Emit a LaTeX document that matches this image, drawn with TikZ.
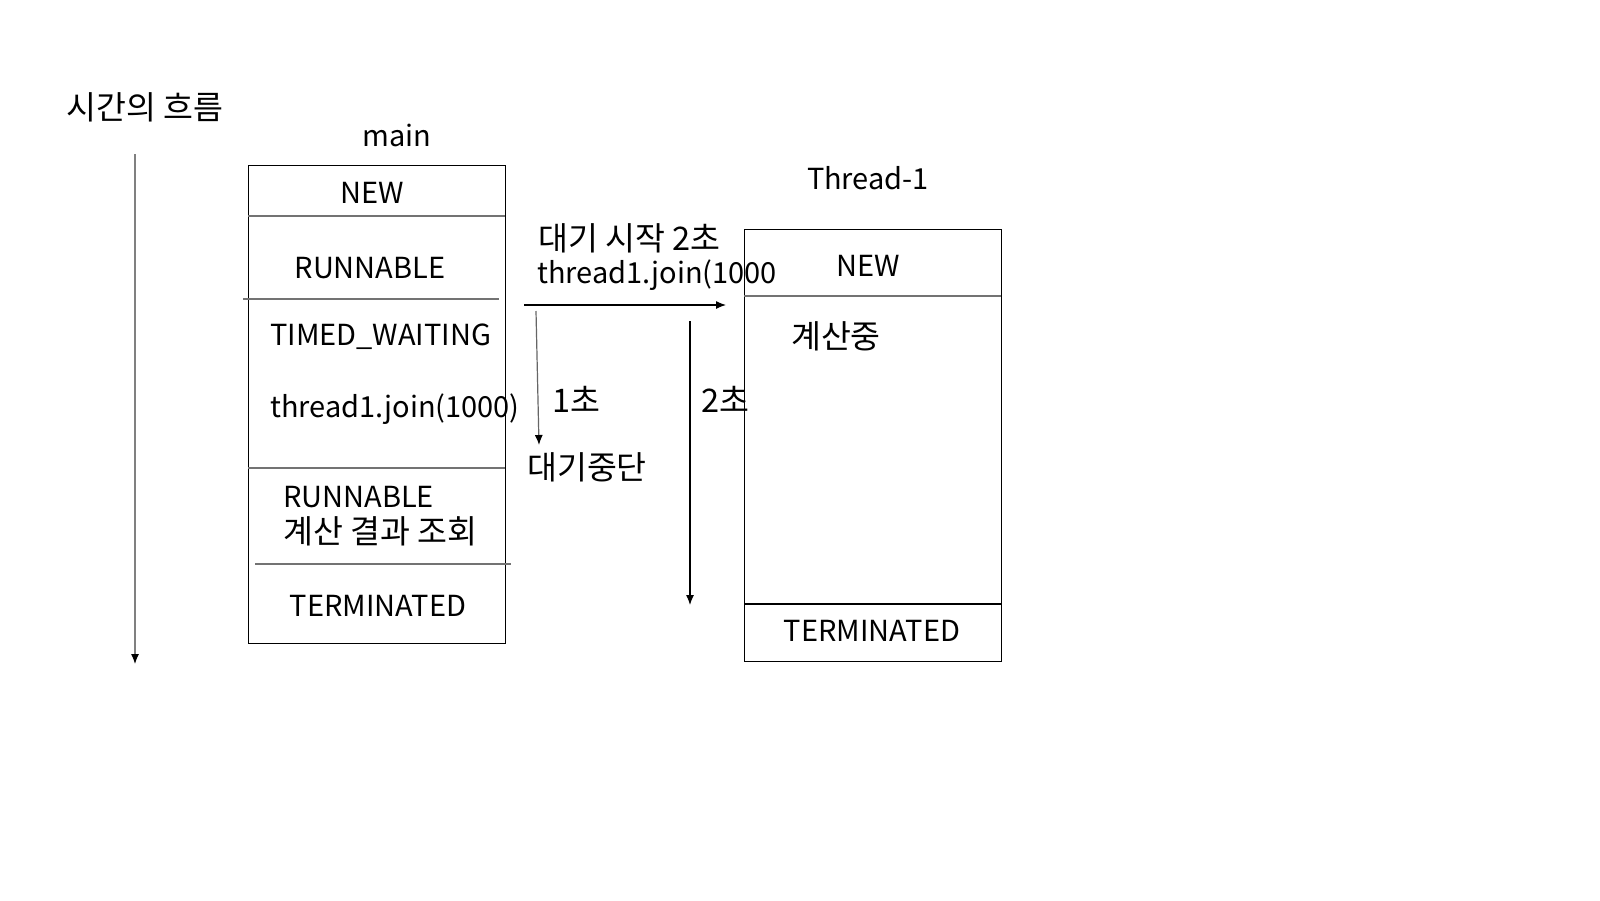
\documentclass[tikz,border=0pt]{standalone}
\usepackage{fontspec}
\setmainfont{Noto Sans CJK KR}
\usetikzlibrary{arrows.meta}
\newcommand{\kf}{\fontsize{32.5}{38}\selectfont}
\begin{document}
\begin{tikzpicture}[x=1pt,y=-1pt,
  every node/.style={inner sep=0pt, font=\fontsize{29}{34}\selectfont},
  kr/.style={font=\kf},
  box/.style={draw=black, line width=1.4pt, inner sep=0pt},
  div/.style={draw=black!55, line width=1.4pt},
  arr/.style={-{Latex[length=10pt,width=8pt,color=black]}, line width=1.2pt}]
\useasboundingbox[fill=white] (0,0) rectangle (1600,900);

% main box
\node[box, minimum width=257, minimum height=478, anchor=north west] (mainbox) at (248,165) {};
\coordinate (m1a) at (248,216); \coordinate (m1b) at (505,216);
\coordinate (m2a) at (243,299); \coordinate (m2b) at (499,299);
\coordinate (m3a) at (248,468); \coordinate (m3b) at (505,468);
\coordinate (m4a) at (255,564); \coordinate (m4b) at (511,564);
\draw[div] (m1a) -- (m1b);
\draw[div] (m2a) -- (m2b);
\draw[div] (m3a) -- (m3b);
\draw[div] (m4a) -- (m4b);

\node (mainlbl) at (397,135) {main};
\node (mnew) at (372,193) {NEW};
\node (mrun) at (370,268) {RUNNABLE};
\node[anchor=west] (mtw) at (270,337) {TIMED\_WAITING};
\node[anchor=west] (mjoin) at (270,409) {thread1.join(1000)};
\node[anchor=west] (mrun2) at (283,497) {RUNNABLE};
\node[anchor=west, kr] (mres) at (283,531) {계산 결과 조회};
\node (mterm) at (378,606) {TERMINATED};

% thread-1 box
\node[box, minimum width=257, minimum height=432, anchor=north west] (tbox) at (744,229) {};
\coordinate (t1a) at (744,296); \coordinate (t1b) at (1001,296);
\coordinate (t2a) at (744,604); \coordinate (t2b) at (1001,604);
\draw[div] (t1a) -- (t1b);
\draw[box] (t2a) -- (t2b);

\node (tlbl) at (868,178) {Thread-1};
\node (tnew) at (868,266) {NEW};
\node[kr] (tcalc) at (836,336) {계산중};
\node (tterm) at (872,631) {TERMINATED};

% middle labels
\node[anchor=west, kr] (wstart) at (538,238) {대기 시작 2초};
\node[anchor=west] (wjoin) at (537,275) {thread1.join(1000};
\node[kr] (s1) at (576,399) {1초};
\node[kr] (stop) at (587,467) {대기중단};
\node[kr] (s2) at (725,399) {2초};

% time flow
\node[anchor=west, kr] (flow) at (66,107) {시간의 흐름};
\coordinate (fa) at (135,154);
\coordinate (fb) at (135,664);
\draw[arr, draw=black!50] (fa) -- (fb);

% arrows
\coordinate (ha) at (524,305); \coordinate (hb) at (726,305);
\draw[arr] (ha) -- (hb);
\coordinate (oa) at (536,311); \coordinate (ob) at (539,445);
\draw[arr, draw=black!60] (oa) -- (ob);
\coordinate (wa) at (690,321); \coordinate (wb) at (690,605);
\draw[arr] (wa) -- (wb);
\end{tikzpicture}
\end{document}
